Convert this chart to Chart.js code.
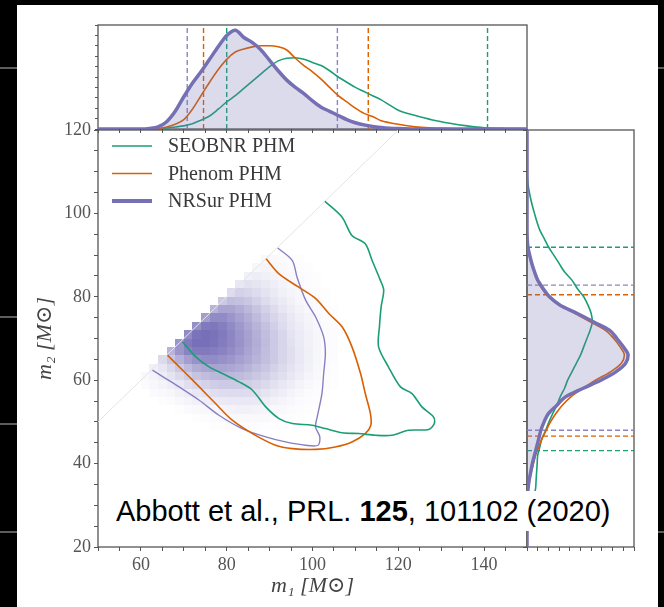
<!DOCTYPE html>
<html lang="en">
<head>
<meta charset="UTF-8">
<title>m1 - m2 posterior</title>
<script src="https://cdn.jsdelivr.net/npm/chart.js"></script>
<style>
  html, body { margin: 0; padding: 0; background: #000; }
  body { width: 664px; height: 607px; position: relative; overflow: hidden; }
  .slide { position: absolute; left: 17px; top: 5px; width: 641px; height: 602px; background: #fff; }
  .rule { position: absolute; height: 2px; background: #5c5c5c; }
  canvas { position: absolute; left: 0; top: 0; }
  .cite { position: absolute; left: 110px; top: 491px; width: 512px; height: 40px; padding-left: 6px; box-sizing: border-box;
          background: #fff; color: #000; font: 29px 'Liberation Sans', Arial, sans-serif; line-height: 40px; white-space: nowrap; }
</style>
</head>
<body>
<div class="slide"></div>
<div class="rule" style="left:0;width:17px;top:67px"></div>
<div class="rule" style="left:0;width:17px;top:316px"></div>
<div class="rule" style="left:0;width:17px;top:423px"></div>
<div class="rule" style="left:0;width:17px;top:531px"></div>
<div class="rule" style="left:658px;width:6px;top:67px"></div>
<div class="rule" style="left:658px;width:6px;top:531px"></div>
<canvas id="main" width="664" height="607"></canvas>
<canvas id="top" width="664" height="140"></canvas>
<canvas id="side" width="664" height="607"></canvas>
<div class="cite">Abbott et al., PRL. <b>125</b>, 101102 (2020)</div>

<script>
// ---- colours (Dark2) ----
const GREEN = '#1b9e77', ORANGE = '#d95f02', PURPLE = '#7570b3';
const SERIF = "'Liberation Serif', 'DejaVu Serif', serif";

// ---- 90% contours in the m1-m2 plane ----
const seobM1 = [102.9,106.9,109.2,112.3,113.9,115.8,116.6,116.0,115.6,115.4,117.7,120.5,123.2,125.5,128.2,128.4,127.1,122.4,118.5,114.7,110.8,106.9,103.0,99.9,95.3,92.2,89.1,86.0,82.9,79.0,75.9,72.8,69.7];
const seobM2 = [102.9,99.1,94.7,92.7,88.7,84.0,81.6,77.6,72.8,68.0,63.2,58.4,56.8,53.6,51.2,49.6,48.2,48.0,46.8,46.8,47.2,47.4,48.4,49.2,49.6,50.8,53.6,57.6,59.6,61.6,63.2,65.6,69.2];
const phenM1 = [89.2,92.2,96.8,100.7,103.8,106.9,109.2,111.2,112.3,113.5,113.6,112.3,109.2,105.3,100.7,95.3,91.4,86.0,81.3,77.4,73.6,70.5,66.2];
const phenM2 = [89.1,85.5,82.3,79.6,76.0,72.8,68.0,61.6,56.8,52.0,49.2,47.2,45.2,44.0,43.4,43.6,44.4,47.2,50.4,54.4,58.4,61.6,66.0];
const nrsM1 = [91.9,95.3,96.4,98.4,100.7,102.6,103.0,102.6,102.2,101.1,100.7,101.7,101.3,98.4,93.7,89.1,83.6,78.2,73.6,68.9,65.8,62.7];
const nrsM2 = [91.7,88.7,84.7,79.2,75.2,70.4,66.4,61.6,56.8,51.2,48.8,46.4,44.4,44.4,45.2,46.4,48.4,51.6,55.2,58.4,60.4,62.4];
const equalMassM1 = [50, 120];
const equalMassM2 = [50, 120];

// ---- NRSur 2D histogram (bin = 2 Msun) ----
const heatBin = 2;
const heatM1 = [60,62,64,66,68,70,72,74,76,78,80,82,84,86,88,90,92,94,96,98,100,102,104];
const heatM2 = [88,86,84,82,80,78,76,74,72,70,68,66,64,62,60,58,56,54,52,50,48];
const heatValues = [
  [0,0,0,0,0,0,0,0,0,0,0,0,0,0,.04,.04,.03,.02,.01,0,0,0,0],
  [0,0,0,0,0,0,0,0,0,0,0,0,0,.06,.07,.06,.04,.03,.02,.01,0,0,0],
  [0,0,0,0,0,0,0,0,0,0,0,0,.10,.12,.10,.08,.06,.04,.03,.02,.01,0,0],
  [0,0,0,0,0,0,0,0,0,0,0,.16,.20,.18,.15,.11,.08,.05,.04,.02,.01,0,0],
  [0,0,0,0,0,0,0,0,0,0,.24,.30,.28,.24,.19,.14,.10,.07,.05,.03,.02,.01,0],
  [0,0,0,0,0,0,0,0,0,.36,.44,.42,.37,.31,.24,.18,.13,.09,.06,.04,.02,.01,0],
  [0,0,0,0,0,0,0,0,.50,.60,.60,.54,.47,.39,.31,.24,.17,.12,.08,.05,.03,.02,.01],
  [0,0,0,0,0,0,0,.64,.76,.76,.70,.62,.54,.45,.36,.28,.21,.15,.10,.07,.04,.02,.01],
  [0,0,0,0,0,0,.74,.88,.90,.85,.77,.68,.59,.50,.41,.32,.24,.17,.12,.08,.05,.03,.02],
  [0,0,0,0,0,.78,.92,.95,.93,.88,.80,.71,.62,.53,.44,.35,.27,.19,.13,.09,.06,.03,.02],
  [0,0,0,0,.70,.88,.95,.95,.92,.87,.80,.72,.63,.54,.45,.36,.28,.20,.14,.09,.06,.03,.02],
  [0,0,0,.50,.70,.82,.88,.88,.86,.82,.76,.69,.61,.53,.44,.36,.28,.21,.15,.10,.06,.03,.02],
  [0,0,.25,.38,.52,.64,.72,.76,.76,.73,.69,.63,.57,.50,.43,.36,.28,.21,.15,.10,.06,.03,.02],
  [0,.10,.17,.26,.36,.46,.54,.59,.61,.61,.59,.55,.50,.44,.38,.31,.25,.19,.13,.09,.05,.03,.01],
  [.04,.08,.12,.18,.25,.32,.39,.44,.47,.48,.47,.45,.41,.37,.32,.26,.21,.16,.11,.07,.04,.02,.01],
  [.03,.05,.08,.11,.15,.21,.26,.30,.33,.35,.35,.34,.32,.29,.25,.20,.16,.12,.08,.05,.03,.02,.01],
  [0,.03,.04,.06,.09,.12,.16,.19,.22,.23,.24,.24,.23,.21,.18,.14,.11,.08,.05,.03,.02,.01,0],
  [0,0,.01,.03,.05,.07,.09,.11,.13,.14,.15,.15,.15,.14,.12,.09,.07,.05,.03,.02,.01,0,0],
  [0,0,0,0,.01,.03,.04,.05,.06,.07,.08,.09,.09,.08,.07,.05,.04,.03,.02,.01,0,0,0],
  [0,0,0,0,0,0,.01,.02,.03,.04,.04,.04,.04,.04,.04,.03,.02,.01,.01,0,0,0,0],
  [0,0,0,0,0,0,0,0,.01,.01,.02,.02,.02,.02,.01,.01,.01,0,0,0,0,0,0]
];

// ---- m1 marginal (top) ----
const m1Grid = [50,60,62,64,66,68,70,72,74,76,78,80,82,84,86,88,90,92,94,96,98,100,102,104,106,108,110,112,114,116,118,120,124,128,132,136,140,145,150];
const m1NRSur = [0,0,.005,.02,.07,.17,.31,.44,.55,.67,.79,.90,.95,.88,.83,.76,.66,.56,.47,.40,.34,.27,.21,.17,.13,.09,.06,.04,.025,.015,.008,.004,0,0,0,0,0,0,0];
const m1Phenom = [0,0,0,.005,.02,.045,.09,.19,.32,.45,.57,.67,.74,.77,.79,.80,.80,.79,.76,.68,.61,.55,.48,.40,.32,.26,.20,.15,.12,.08,.06,.045,.02,.01,.005,0,0,0,0];
const m1SEOB = [0,0,.002,.005,.01,.02,.03,.05,.085,.125,.19,.26,.32,.39,.46,.53,.60,.655,.68,.685,.67,.64,.61,.56,.50,.45,.40,.36,.32,.28,.23,.18,.13,.087,.055,.03,.012,.005,.003];
const m1Bounds = { nrsur: [70.8, 105.8], phenom: [74.6, 113.0], seob: [80.0, 140.8] };

// ---- m2 marginal (right) ----
const m2Grid = [20,26,30,34,36,38,40,42,44,46,48,50,52,54,56,58,60,62,64,66,68,70,72,74,76,78,80,82,84,86,88,90,92,94,96,100,104,108,112,120];
const m2NRSur = [0,0,0,.01,.02,.035,.05,.07,.09,.11,.13,.16,.20,.28,.36,.52,.69,.83,.92,.945,.90,.84,.77,.62,.47,.31,.21,.15,.10,.07,.045,.025,.008,.002,0,0,0,0,0,0];
const m2Phenom = [0,0,0,.01,.02,.04,.06,.08,.11,.14,.18,.22,.27,.33,.41,.52,.64,.78,.88,.91,.87,.81,.73,.59,.45,.31,.20,.14,.095,.065,.04,.02,.008,.002,0,0,0,0,0,0];
const m2SEOB = [0,.01,.04,.08,.085,.09,.095,.10,.12,.14,.175,.205,.24,.28,.31,.35,.38,.42,.46,.50,.53,.56,.59,.61,.60,.57,.53,.47,.42,.35,.30,.25,.20,.16,.12,.07,.03,.005,0,0];
const m2Bounds = { nrsur: [48.0, 82.8], phenom: [46.6, 80.5], seob: [43.1, 91.9] };

const legendNames = ['SEOBNR PHM', 'Phenom PHM', 'NRSur PHM'];
const legendColors = [GREEN, ORANGE, PURPLE];
const legendWidths = [1.6, 1.6, 4];

const pts = (xs, ys) => xs.map((x, i) => ({ x, y: ys[i] }));

// plugins
const framePlugin = {
  id: 'frame',
  beforeDatasetsDraw(chart) {
    const { ctx, chartArea: a } = chart;
    ctx.save();
    ctx.strokeStyle = '#555';
    ctx.lineWidth = 1.3;
    ctx.strokeRect(a.left, a.top, a.width, a.height);
    ctx.restore();
  }
};

const heatmapPlugin = {
  id: 'heat',
  beforeDatasetsDraw(chart) {
    const { ctx, chartArea: a, scales: { x, y } } = chart;
    ctx.save();
    ctx.beginPath();
    ctx.rect(a.left, a.top, a.width, a.height);
    ctx.clip();
    heatValues.forEach((row, r) => {
      row.forEach((v, c) => {
        if (!v) return;
        const x0 = Math.round(x.getPixelForValue(heatM1[c]));
        const x1 = Math.round(x.getPixelForValue(heatM1[c] + heatBin));
        const y0 = Math.round(y.getPixelForValue(heatM2[r] + heatBin));
        const y1 = Math.round(y.getPixelForValue(heatM2[r]));
        ctx.fillStyle = 'rgba(112,104,180,' + v + ')';
        ctx.fillRect(x0, y0, x1 - x0, y1 - y0);
      });
    });
    ctx.restore();
  }
};

const legendPlugin = {
  id: 'insideLegend',
  afterDatasetsDraw(chart) {
    const { ctx, chartArea: a } = chart;
    ctx.save();
    ctx.font = '20px ' + SERIF;
    ctx.textBaseline = 'middle';
    legendNames.forEach((name, i) => {
      const y = a.top + 16 + i * 27.5;
      ctx.strokeStyle = legendColors[i];
      ctx.lineWidth = legendWidths[i];
      ctx.beginPath();
      ctx.moveTo(a.left + 14, y);
      ctx.lineTo(a.left + 54, y);
      ctx.stroke();
      ctx.fillStyle = '#3a3a3a';
      ctx.fillText(name, a.left + 70, y + 1);
    });
    ctx.restore();
  }
};

const tickGrid = len => ({ drawOnChartArea: false, tickLength: len, tickColor: '#555', tickWidth: 1 });
const noLabels = { autoSkip: false, callback: () => '' };

// ---- main joint panel ----
new Chart(document.getElementById('main'), {
  type: 'scatter',
  data: {
    datasets: [
      { label: 'SEOBNR PHM', data: pts(seobM1, seobM2), borderColor: GREEN, borderWidth: 1.6 },
      { label: 'Phenom PHM', data: pts(phenM1, phenM2), borderColor: ORANGE, borderWidth: 1.6 },
      { label: 'NRSur PHM', data: pts(nrsM1, nrsM2), borderColor: '#8680c2', borderWidth: 1.4 },
      { label: '', data: pts(equalMassM1, equalMassM2), borderColor: '#e4e4e4', borderWidth: 1, tension: 0 }
    ]
  },
  options: {
    responsive: false, animation: false, events: [],
    layout: { padding: { left: 0, top: 130, right: 137, bottom: 0 } },
    elements: { point: { radius: 0 }, line: { tension: 0.3 } },
    datasets: { scatter: { showLine: true } },
    plugins: { legend: { display: false }, tooltip: { enabled: false } },
    scales: {
      x: {
        type: 'linear', min: 50, max: 150,
        afterFit: s => { s.height = 60; },
        border: { display: false },
        grid: tickGrid(4),
        ticks: { stepSize: 5, autoSkip: false, maxRotation: 0, padding: 3, color: '#555',
                 font: { family: SERIF, size: 18 },
                 callback: v => (v % 20 === 0 && v >= 60 && v <= 140) ? v : '' },
        title: { display: true, text: 'm\u2081 [M\u2299]', color: '#444',
                 font: { family: SERIF, size: 22, style: 'italic' }, padding: { top: 0, bottom: 8 } }
      },
      y: {
        type: 'linear', min: 20, max: 120,
        afterFit: s => { s.width = 98; },
        border: { display: false },
        grid: tickGrid(4),
        ticks: { stepSize: 5, autoSkip: false, padding: 3, color: '#555',
                 font: { family: SERIF, size: 18 },
                 callback: v => (v % 20 === 0) ? v : '' },
        title: { display: true, text: 'm\u2082 [M\u2299]', color: '#444',
                 font: { family: SERIF, size: 22, style: 'italic' }, padding: { top: 32, bottom: 0 } }
      }
    }
  },
  plugins: [framePlugin, heatmapPlugin, legendPlugin]
});

// ---- m1 marginal ----
const vLine = (v, color) => ({ data: [{ x: v, y: 0 }, { x: v, y: 1 }], borderColor: color, borderWidth: 1.4,
                                borderDash: [5, 3], tension: 0, pointRadius: 0, fill: false });
new Chart(document.getElementById('top'), {
  type: 'line',
  data: {
    datasets: [
      { label: 'NRSur PHM', data: pts(m1Grid, m1NRSur), borderColor: PURPLE, borderWidth: 3.5,
        fill: 'origin', backgroundColor: 'rgba(117,112,179,0.25)', cubicInterpolationMode: 'monotone' },
      { label: 'Phenom PHM', data: pts(m1Grid, m1Phenom), borderColor: ORANGE, borderWidth: 1.6, cubicInterpolationMode: 'monotone' },
      { label: 'SEOBNR PHM', data: pts(m1Grid, m1SEOB), borderColor: GREEN, borderWidth: 1.6, cubicInterpolationMode: 'monotone' },
      vLine(m1Bounds.nrsur[0], '#8a85c4'), vLine(m1Bounds.nrsur[1], '#8a85c4'),
      vLine(m1Bounds.phenom[0], ORANGE), vLine(m1Bounds.phenom[1], ORANGE),
      vLine(m1Bounds.seob[0], GREEN), vLine(m1Bounds.seob[1], GREEN)
    ]
  },
  options: {
    responsive: false, animation: false, events: [],
    layout: { padding: { left: 0, top: 25, right: 137, bottom: 0 } },
    elements: { point: { radius: 0 } },
    plugins: { legend: { display: false }, tooltip: { enabled: false } },
    scales: {
      x: { type: 'linear', min: 50, max: 150, afterFit: s => { s.height = 11; },
           border: { display: false }, grid: tickGrid(4), ticks: { ...noLabels, stepSize: 5 } },
      y: { type: 'linear', min: 0, max: 1, afterFit: s => { s.width = 98; },
           border: { display: false }, grid: tickGrid(3), ticks: { ...noLabels, stepSize: 0.1 } }
    }
  },
  plugins: [framePlugin]
});

// ---- m2 marginal ----
const hLine = (v, color) => ({ data: [{ x: 0, y: v }, { x: 1, y: v }], borderColor: color, borderWidth: 1.4,
                                borderDash: [5, 3], tension: 0, pointRadius: 0, fill: false });
new Chart(document.getElementById('side'), {
  type: 'line',
  data: {
    datasets: [
      { label: 'NRSur PHM', data: pts(m2NRSur, m2Grid), borderColor: PURPLE, borderWidth: 3.5,
        fill: 'origin', backgroundColor: 'rgba(117,112,179,0.25)', cubicInterpolationMode: 'monotone' },
      { label: 'Phenom PHM', data: pts(m2Phenom, m2Grid), borderColor: ORANGE, borderWidth: 1.6, cubicInterpolationMode: 'monotone' },
      { label: 'SEOBNR PHM', data: pts(m2SEOB, m2Grid), borderColor: GREEN, borderWidth: 1.6, cubicInterpolationMode: 'monotone' },
      hLine(m2Bounds.nrsur[0], '#8a85c4'), hLine(m2Bounds.nrsur[1], '#8a85c4'),
      hLine(m2Bounds.phenom[0], ORANGE), hLine(m2Bounds.phenom[1], ORANGE),
      hLine(m2Bounds.seob[0], GREEN), hLine(m2Bounds.seob[1], GREEN)
    ]
  },
  options: {
    indexAxis: 'y',
    responsive: false, animation: false, events: [],
    layout: { padding: { left: 0, top: 130, right: 30, bottom: 0 } },
    elements: { point: { radius: 0 } },
    plugins: { legend: { display: false }, tooltip: { enabled: false } },
    scales: {
      x: { type: 'linear', min: 0, max: 1, afterFit: s => { s.height = 60; },
           border: { display: false }, grid: tickGrid(4), ticks: { ...noLabels, stepSize: 0.1 } },
      y: { type: 'linear', min: 20, max: 120, afterFit: s => { s.width = 527; },
           border: { display: false }, grid: tickGrid(4), ticks: { ...noLabels, stepSize: 5 } }
    }
  },
  plugins: [framePlugin]
});
</script>
</body>
</html>
